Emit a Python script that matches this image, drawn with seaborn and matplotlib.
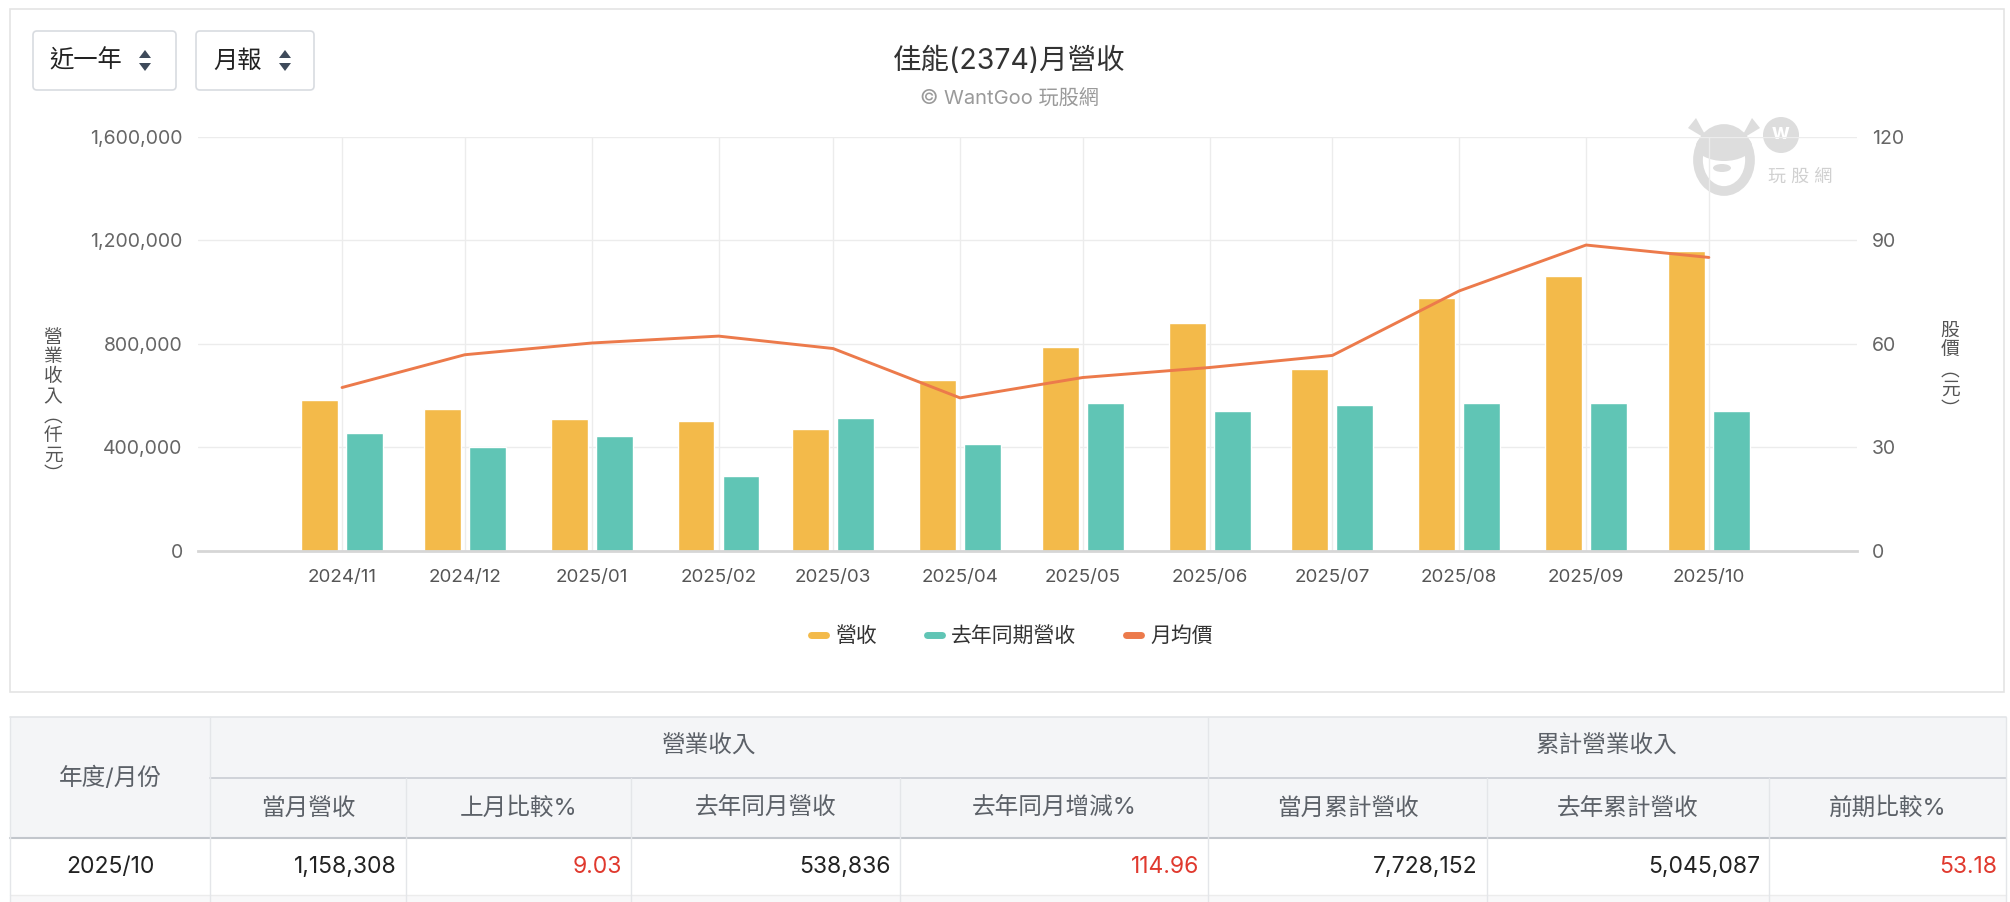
import matplotlib
matplotlib.use("Agg")
import matplotlib.pyplot as plt
import matplotlib.dates as mdates
from matplotlib.patches import Rectangle, FancyBboxPatch, Polygon, Ellipse, Circle
from matplotlib.lines import Line2D
from matplotlib.ticker import FuncFormatter
import seaborn as sns
import pandas as pd

# chart data
months = ["2024/11", "2024/12", "2025/01", "2025/02", "2025/03", "2025/04",
          "2025/05", "2025/06", "2025/07", "2025/08", "2025/09", "2025/10"]
revenue = [583300, 548100, 507600, 499800, 471100, 661600,
           788200, 879600, 703400, 977400, 1062378, 1158308]
revenue_last_year = [456750, 400600, 442400, 288400, 512900, 413700,
                     570300, 541600, 562500, 570300, 570300, 538836]
avg_price = [47.3, 56.8, 60.2, 62.2, 58.6, 44.3, 50.2, 53.1, 56.6, 75.3, 88.6, 85.0]

left_ticks = [0, 400000, 800000, 1200000, 1600000]
right_ticks = [0, 30, 60, 90, 120]

# table under the chart
table_group_headers = ["年度/月份", "營業收入", "累計營業收入"]
table_sub_headers = ["當月營收", "上月比較%", "去年同月營收", "去年同月增減%",
                     "當月累計營收", "去年累計營收", "前期比較%"]
table_row = ["2025/10", "1,158,308", "9.03", "538,836", "114.96",
             "7,728,152", "5,045,087", "53.18"]

ORANGE = "#F3BA4A"
TEAL = "#60C5B5"
LINE = "#EC7A4B"

sns.set_theme(style="white")
plt.rcParams['font.family'] = ['Inter', 'Noto Sans CJK TC', 'DejaVu Sans']

W, H = 2010, 902
fig = plt.figure(figsize=(W / 100, H / 100), dpi=100)
fig.patch.set_facecolor("white")

# background layer in pixel coords for card, buttons, table
bg = fig.add_axes([0, 0, 1, 1], zorder=-1)
bg.set_xlim(0, W)
bg.set_ylim(H, 0)
bg.axis("off")

bg.add_patch(Rectangle((10, 9), 1994, 683, fc="none", ec="#E4E4E4", lw=1.2))

# dropdown buttons
for x0, w, label, tx, ax_ in [(33, 143, "近一年", 49, 145), (196, 118, "月報", 213, 285)]:
    bg.add_patch(FancyBboxPatch((x0, 31), w, 59, boxstyle="round,pad=0,rounding_size=4",
                                fc="white", ec="#D8DBE0", lw=1.2))
    bg.text(tx, 61, label, ha="left", va="center", fontsize=17.5, color="#222")
    bg.add_patch(Polygon([[ax_ - 6, 58], [ax_ + 6, 58], [ax_, 50]], closed=True, fc="#3E4A5A", ec="none"))
    bg.add_patch(Polygon([[ax_ - 6, 63], [ax_ + 6, 63], [ax_, 71]], closed=True, fc="#3E4A5A", ec="none"))

bg.text(1009, 61, "佳能(2374)月營收", ha="center", va="center", fontsize=20.5, color="#333")
bg.text(1009, 99, "© WantGoo 玩股網", ha="center", va="center", fontsize=14.5, color="#9A9A9A")

# watermark logo (rough)
wm = "#DDDDDD"
bg.add_patch(Ellipse((1724, 160), 52, 62, fc="none", ec=wm, lw=7))
bg.add_patch(Ellipse((1724, 146), 56, 30, fc=wm, ec="none"))
bg.add_patch(Polygon([[1688, 128], [1696, 118], [1708, 140]], closed=True, fc=wm, ec="none"))
bg.add_patch(Polygon([[1740, 140], [1752, 118], [1760, 128]], closed=True, fc=wm, ec="none"))
bg.add_patch(Ellipse((1722, 168), 18, 8, fc=wm, ec="none"))
bg.add_patch(Circle((1781, 135), 18, fc=wm, ec="none"))
bg.text(1781, 133, "w", ha="center", va="center", fontsize=15, color="white", fontweight="bold")
bg.text(1800, 177, "玩 股 網", ha="center", va="center", fontsize=13, color="#D0D0D0")

# table
cb = [10, 210, 406, 631, 900, 1208, 1487, 1769, 2006]
t_top, t_mid, t_head, t_row = 717, 778, 838, 895
bg.add_patch(Rectangle((cb[0], t_top), cb[-1] - cb[0], t_head - t_top, fc="#F4F5F7", ec="none"))
bg.add_patch(Rectangle((cb[0], t_row), cb[-1] - cb[0], H - t_row, fc="#F8F8F9", ec="none"))
bg.plot([cb[0], cb[-1]], [t_top, t_top], color="#E3E5E8", lw=1.2)
bg.plot([cb[1], cb[-1]], [t_mid, t_mid], color="#C9CDD3", lw=1.2)
bg.plot([cb[0], cb[-1]], [t_head, t_head], color="#C2C6CC", lw=1.5)
bg.plot([cb[0], cb[-1]], [t_row, t_row], color="#ECECEC", lw=1)
for i, xv in enumerate(cb):
    y0 = t_top if i in (0, 1, 5, 8) else t_mid
    bg.plot([xv, xv], [y0, H], color="#E4E6E9", lw=1)

hdr = dict(ha="center", va="center", fontsize=17, color="#5C6168")
bg.text((cb[0] + cb[1]) / 2, 778, table_group_headers[0], **hdr)
bg.text((cb[1] + cb[5]) / 2, 747, table_group_headers[1], **hdr)
bg.text((cb[5] + cb[8]) / 2, 747, table_group_headers[2], **hdr)
for i, lab in enumerate(table_sub_headers):
    bg.text((cb[i + 1] + cb[i + 2]) / 2, 809, lab, **hdr)
for i, val in enumerate(table_row):
    color = "#E0392E" if i in (2, 4, 7) else "#222"
    if i == 0:
        bg.text((cb[0] + cb[1]) / 2, 867, val, ha="center", va="center", fontsize=16.5, color=color)
    else:
        bg.text(cb[i + 1] - 9, 867, val, ha="right", va="center", fontsize=16.5, color=color)

# chart
dates = pd.to_datetime(months, format="%Y/%m")
xs = mdates.date2num(dates)

ax = fig.add_axes([198 / W, 1 - 550.7 / H, (1857 - 198) / W, (550.7 - 136.7) / H])
ax.set_facecolor("none")
ax.bar(xs - 5.5, revenue, width=9, color=ORANGE, zorder=2)
ax.bar(xs + 5.5, revenue_last_year, width=9, color=TEAL, zorder=2)
ax.set_xlim(xs[0] - 35.2, xs[-1] + 36.2)
ax.set_ylim(0, 1600000)
ax.set_yticks(left_ticks)
ax.yaxis.set_major_formatter(FuncFormatter(lambda v, p: f"{v:,.0f}"))
ax.set_xticks(xs)
ax.set_xticklabels(months)
ax.grid(True, color="#ECECEC", lw=1)
ax.set_axisbelow(True)
for s in ["top", "right", "left"]:
    ax.spines[s].set_visible(False)
ax.spines["bottom"].set_color("#D6D6D6")
ax.spines["bottom"].set_linewidth(2)
ax.tick_params(axis="x", length=6, width=1, color="#D6D6D6", labelsize=13.5, labelcolor="#555", pad=7)
ax.tick_params(axis="y", length=0, labelsize=14, labelcolor="#666", pad=11)

ax2 = ax.twinx()
sns.lineplot(x=xs, y=avg_price, ax=ax2, color=LINE, linewidth=2.1, legend=False, zorder=3)
ax2.set_xlim(ax.get_xlim())
ax2.set_ylim(0, 120)
ax2.set_yticks(right_ticks)
ax2.grid(False)
ax2.set_ylabel("")
for s in ax2.spines.values():
    s.set_visible(False)
ax2.tick_params(axis="y", length=0, labelsize=14, labelcolor="#666", pad=11)

fig.text(53 / W, 1 - 407 / H, "\n".join("營業收入︵仟元︶"), ha="center", va="center",
         fontsize=13.5, color="#555", linespacing=1.2)
fig.text(1950 / W, 1 - 371 / H, "\n".join("股價︵元︶"), ha="center", va="center",
         fontsize=13.5, color="#555", linespacing=1.2)

handles = [Line2D([], [], color=ORANGE, lw=5), Line2D([], [], color=TEAL, lw=5),
           Line2D([], [], color=LINE, lw=5)]
fig.legend(handles, ["營收", "去年同期營收", "月均價"], loc="center", ncol=3,
           bbox_to_anchor=(1012 / W, 1 - 636 / H), frameon=False, fontsize=15,
           handlelength=0.7, handletextpad=0.45, columnspacing=2.4, labelcolor="#333")

fig.savefig("out.png", dpi=100, facecolor="white")
